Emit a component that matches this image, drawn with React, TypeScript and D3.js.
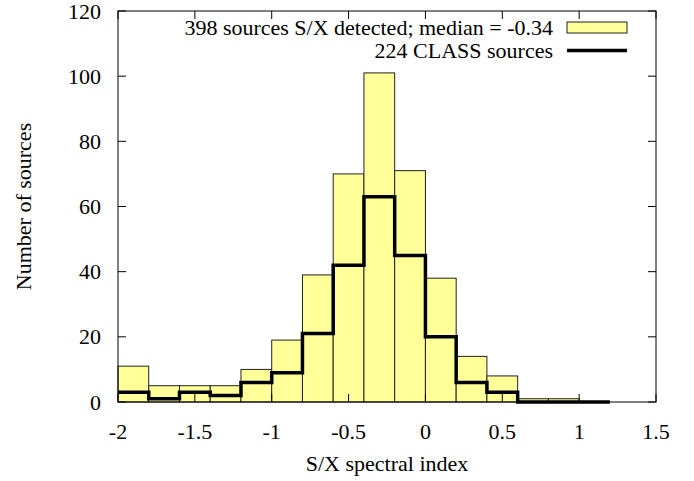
import * as d3 from "d3"

// bin left edges, width 0.2
const binStarts = [-2, -1.8, -1.6, -1.4, -1.2, -1, -0.8, -0.6, -0.4, -0.2, 0, 0.2, 0.4, 0.6, 0.8, 1.0]
const detectedCounts = [11, 5, 5, 5, 10, 19, 39, 70, 101, 71, 38, 14, 8, 1, 1, 0]
const classCounts = [3, 1, 3, 2, 6, 9, 21, 42, 63, 45, 20, 6, 3, 0, 0, 0]
const xTicks = [-2, -1.5, -1, -0.5, 0, 0.5, 1, 1.5]
const yTicks = [0, 20, 40, 60, 80, 100, 120]
const binWidth = 0.2

const width = 694
const height = 481
const left = 118
const right = 656
const top = 11
const bottom = 402
const tickLen = 8
const fontStyle = { fontFamily: '"Liberation Serif"', fontSize: "22px" }

export default function App() {
  const x = d3.scaleLinear().domain([-2, 1.5]).range([left, right])
  const y = d3.scaleLinear().domain([0, 120]).range([bottom, top])

  const bars = binStarts.map((b, i) => ({ b, v: detectedCounts[i] })).filter((d) => d.v > 0)

  // CLASS step line
  const stepPts: [number, number][] = binStarts.map((b, i) => [b, classCounts[i]])
  stepPts.push([binStarts[binStarts.length - 1] + binWidth, classCounts[classCounts.length - 1]])
  const line = d3
    .line<[number, number]>()
    .x((d) => x(d[0]))
    .y((d) => y(d[1]))
    .curve(d3.curveStepAfter)

  return (
    <svg
      width={width}
      height={height}
      style={{ position: "absolute", left: 0, top: 0, background: "#fff" }}
    >
      {bars.map((d) => (
        <rect
          key={d.b}
          x={x(d.b)}
          y={y(d.v)}
          width={x(d.b + binWidth) - x(d.b)}
          height={y(0) - y(d.v)}
          fill="#ffff99"
          stroke="#222"
          strokeWidth={1}
        />
      ))}
      <path d={line(stepPts) || ""} fill="none" stroke="#000" strokeWidth={3.5} />

      {/* frame */}
      <rect x={left} y={top} width={right - left} height={bottom - top} fill="none" stroke="#000" strokeWidth={1} />

      <g stroke="#000" strokeWidth={1}>
        {xTicks.map((t) => (
          <g key={t}>
            <line x1={x(t)} x2={x(t)} y1={bottom} y2={bottom - tickLen} />
            <line x1={x(t)} x2={x(t)} y1={top} y2={top + tickLen} />
          </g>
        ))}
        {yTicks.map((t) => (
          <g key={t}>
            <line x1={left} x2={left + tickLen} y1={y(t)} y2={y(t)} />
            <line x1={right} x2={right - tickLen} y1={y(t)} y2={y(t)} />
          </g>
        ))}
      </g>

      <g fill="#000" style={fontStyle}>
        {xTicks.map((t) => (
          <text key={t} x={x(t)} y={439} textAnchor="middle" style={fontStyle}>
            {String(t)}
          </text>
        ))}
        {yTicks.map((t) => (
          <text key={t} x={left - 17} y={y(t) + 7.5} textAnchor="end" style={fontStyle}>
            {String(t)}
          </text>
        ))}
        <text x={(left + right) / 2} y={471} textAnchor="middle" style={fontStyle}>
          S/X spectral index
        </text>
        <text
          transform={`translate(31, ${(top + bottom) / 2}) rotate(-90)`}
          textAnchor="middle"
          style={fontStyle}
        >
          Number of sources
        </text>

        {/* legend */}
        <text x={553} y={35} textAnchor="end" style={fontStyle}>
          398 sources S/X detected; median = -0.34
        </text>
        <text x={553} y={58} textAnchor="end" style={fontStyle}>
          224 CLASS sources
        </text>
      </g>
      <rect x={567} y={22} width={60} height={11} fill="#ffff99" stroke="#222" strokeWidth={1} />
      <line x1={567} x2={627} y1={50.5} y2={50.5} stroke="#000" strokeWidth={3.5} />
    </svg>
  )
}
